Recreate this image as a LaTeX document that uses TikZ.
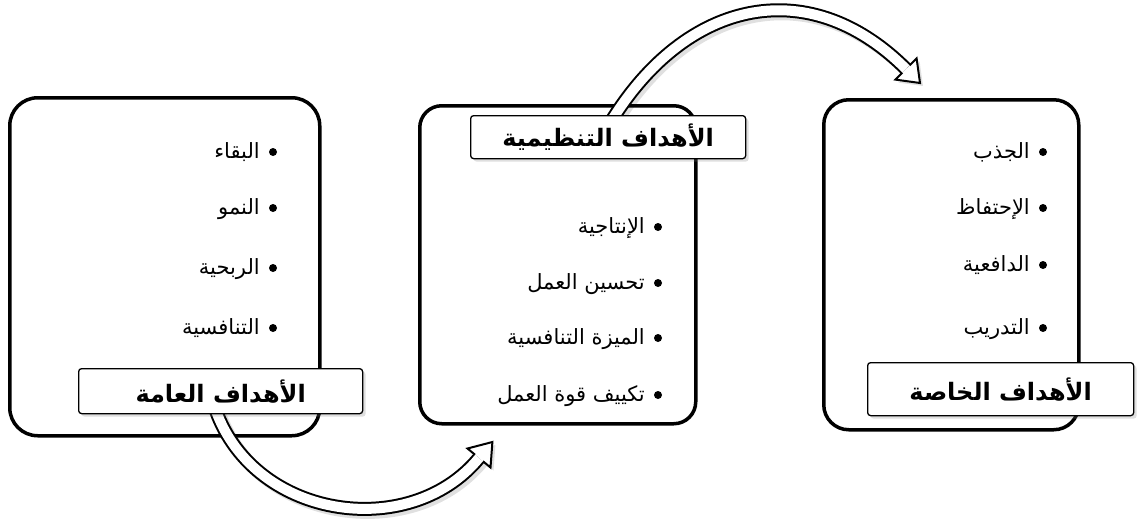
\documentclass[tikz,border=0pt]{standalone}
\usepackage{fontspec}
\newfontfamily\arabicfont[Script=Arabic]{DejaVu Sans}
\TeXXeTstate=1
\usetikzlibrary{shadows}
\tikzset{
  bigbox/.style={draw, line width=3.5pt, anchor=north west, inner sep=0pt},
  titlebox/.style={draw, line width=1.3pt, rounded corners=3pt, fill=white, anchor=north west, inner sep=0pt,
    font=\arabicfont\bfseries\fontsize{24}{28}\selectfont,
    drop shadow={opacity=0.25, shadow xshift=3pt, shadow yshift=-3pt}},
  item/.style={anchor=base east, inner sep=0pt, font=\arabicfont\fontsize{21}{24}\selectfont},
  dot/.style={circle, fill=black, inner sep=0pt, minimum size=8pt},
  bandshadow/.style={line width=14pt, black, opacity=0.12, transform canvas={shift={(3pt,-3pt)}}},
  bandout/.style={line width=14pt, black},
  bandin/.style={line width=10pt, white},
  headshape/.style={fill=white, draw=black, line width=2pt, line join=miter},
  headshadow/.style={fill=black, opacity=0.12, transform canvas={shift={(3pt,-3pt)}}},
}
\begin{document}
\begin{tikzpicture}[x=1pt, y=-1pt]
\useasboundingbox (0,0) rectangle (1137,519);
% big boxes
\node[bigbox, rounded corners=28pt, minimum width=310pt, minimum height=338pt] (L) at (8,96) {};
\node[bigbox, rounded corners=22pt, minimum width=276pt, minimum height=318pt] (M) at (418,104) {};
\node[bigbox, rounded corners=25pt, minimum width=255pt, minimum height=330pt] (R) at (822,98) {};

% bottom arrow (L -> M)
\coordinate (b0) at (214,405);
\coordinate (b1) at (250,519);
\coordinate (b2) at (409,543);
\coordinate (bm) at (479,458);
\coordinate (bx) at (481,455.7);
\coordinate (bt) at (492.4,442);
\coordinate (bc1) at (490.5,467.5);
\coordinate (bc2) at (467.5,448.5);
\draw[bandshadow] (b0) .. controls (b1) and (b2) .. (bm);
\fill[headshadow] (bt) -- (bc1) -- (bc2) -- cycle;
\draw[bandout] (b0) .. controls (b1) and (b2) .. (bm);
\draw[headshape] (bt) -- (bc1) -- (bc2) -- cycle;
\draw[bandin] (b0) .. controls (b1) and (b2) .. (bm);
\draw[bandin] (bm) -- (bx);

% top arrow (M -> R)
\coordinate (t0) at (606,130);
\coordinate (t1) at (681,0);
\coordinate (t2) at (807,-30);
\coordinate (tm) at (906,69);
\coordinate (tx) at (908.1,71.1);
\coordinate (tt) at (920,83);
\coordinate (tc1) at (895.4,79.6);
\coordinate (tc2) at (916.6,58.4);
\draw[bandshadow] (t0) .. controls (t1) and (t2) .. (tm);
\fill[headshadow] (tt) -- (tc1) -- (tc2) -- cycle;
\draw[bandout] (t0) .. controls (t1) and (t2) .. (tm);
\draw[headshape] (tt) -- (tc1) -- (tc2) -- cycle;
\draw[bandin] (t0) .. controls (t1) and (t2) .. (tm);
\draw[bandin] (tm) -- (tx);

% title labels
\node[titlebox, minimum width=284pt, minimum height=45pt] (Lt) at (78,368) {\beginR الأهداف العامة\endR};
\node[titlebox, minimum width=275pt, minimum height=43pt] (Mt) at (470,115) {\beginR الأهداف التنظيمية\endR};
\node[titlebox, minimum width=266pt, minimum height=53pt] (Rt) at (867,362) {\beginR الأهداف الخاصة\endR};

% left items
\node[dot] (ld1) at (273,152) {};
\node[dot] (ld2) at (273,208) {};
\node[dot] (ld3) at (273,268) {};
\node[dot] (ld4) at (273,328) {};
\node[item] (li1) at (260,158) {\beginR البقاء\endR};
\node[item] (li2) at (260,214) {\beginR النمو\endR};
\node[item] (li3) at (260,274) {\beginR الربحية\endR};
\node[item] (li4) at (260,334) {\beginR التنافسية\endR};

% middle items
\node[dot] (md1) at (658,227) {};
\node[dot] (md2) at (658,283) {};
\node[dot] (md3) at (658,338) {};
\node[dot] (md4) at (658,395) {};
\node[item] (mi1) at (645,233) {\beginR الإنتاجية\endR};
\node[item] (mi2) at (645,289) {\beginR تحسين العمل\endR};
\node[item] (mi3) at (645,344) {\beginR الميزة التنافسية\endR};
\node[item] (mi4) at (645,401) {\beginR تكييف قوة العمل\endR};

% right items
\node[dot] (rd1) at (1043,152) {};
\node[dot] (rd2) at (1043,208) {};
\node[dot] (rd3) at (1043,265) {};
\node[dot] (rd4) at (1043,328) {};
\node[item] (ri1) at (1030,158) {\beginR الجذب\endR};
\node[item] (ri2) at (1030,214) {\beginR الإحتفاظ\endR};
\node[item] (ri3) at (1030,271) {\beginR الدافعية\endR};
\node[item] (ri4) at (1030,334) {\beginR التدريب\endR};
\end{tikzpicture}
\end{document}
